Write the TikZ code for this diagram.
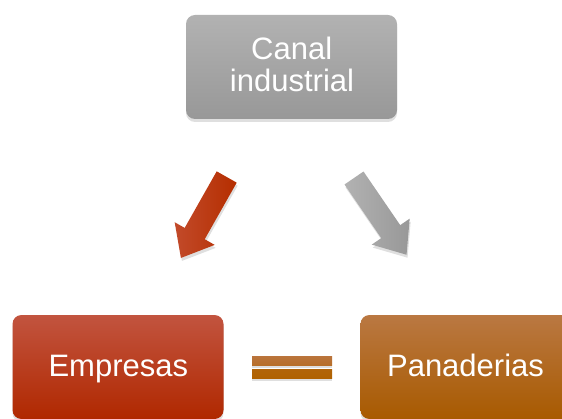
\documentclass[tikz,border=0pt]{standalone}
\usepackage{fontspec}
\setmainfont{Liberation Sans}
\usetikzlibrary{shadows}
\definecolor{grayT}{HTML}{B2B2B2}
\definecolor{grayB}{HTML}{989898}
\definecolor{redT}{HTML}{C2543F}
\definecolor{redB}{HTML}{B02800}
\definecolor{orT}{HTML}{BA7842}
\definecolor{orB}{HTML}{A85A00}
\definecolor{eqT}{HTML}{BA743C}
\definecolor{eqB}{HTML}{B06200}
\definecolor{arT}{HTML}{C24A2A}
\definecolor{arB}{HTML}{B52E00}
\begin{document}
\begin{tikzpicture}[x=1pt,y=1pt,
  box/.style={rounded corners=9pt, minimum width=211pt, minimum height=104pt,
    inner sep=0pt,
    drop shadow={shadow xshift=0pt, shadow yshift=-3pt, opacity=0.25}},
  lbl/.style={text=white, font=\fontsize{31}{35}\selectfont, anchor=base, inner sep=0pt},
  eqbar/.style={minimum width=80pt, minimum height=9pt, inner sep=0pt,
    drop shadow={shadow xshift=0pt, shadow yshift=-2.5pt, opacity=0.25}},
  arr/.style={drop shadow={shadow xshift=1pt, shadow yshift=-3pt, opacity=0.25}}]
\useasboundingbox (0,0) rectangle (562,418);
\clip (0,0) rectangle (562,418);
\node[box, top color=grayT, bottom color=grayB] (canal) at (291.5,351) {};
\node[lbl] (canal1) at (291.7,358) {Canal};
\node[lbl] (canal2) at (292,326.3) {industrial};
\node[box, top color=redT, bottom color=redB] (emp) at (118,51) {};
\node[lbl] (emptext) at (118.3,41.3) {Empresas};
\node[box, top color=orT, bottom color=orB] (pan) at (466,51) {};
\node[lbl] (pantext) at (465.5,41.3) {Panaderias};
\node[eqbar, top color=eqT, bottom color=eqT!70!eqB] (eq1) at (292,57.5) {};
\node[eqbar, top color=eqB!85!eqT, bottom color=eqB] (eq2) at (292,44.3) {};
% arrows
\begin{scope}[shift={(226.7,241)}, rotate=240.5]
  \path[arr, left color=arT, right color=arB] (0,-11.5) -- (65,-11.5) -- (65,-23) -- (93,0) -- (65,23) -- (65,11.5) -- (0,11.5) -- cycle;
\end{scope}
\begin{scope}[shift={(354,240)}, rotate=-55.6]
  \path[arr, left color=grayT, right color=grayB] (0,-11.5) -- (65,-11.5) -- (65,-23) -- (93,0) -- (65,23) -- (65,11.5) -- (0,11.5) -- cycle;
\end{scope}
\end{tikzpicture}
\end{document}
